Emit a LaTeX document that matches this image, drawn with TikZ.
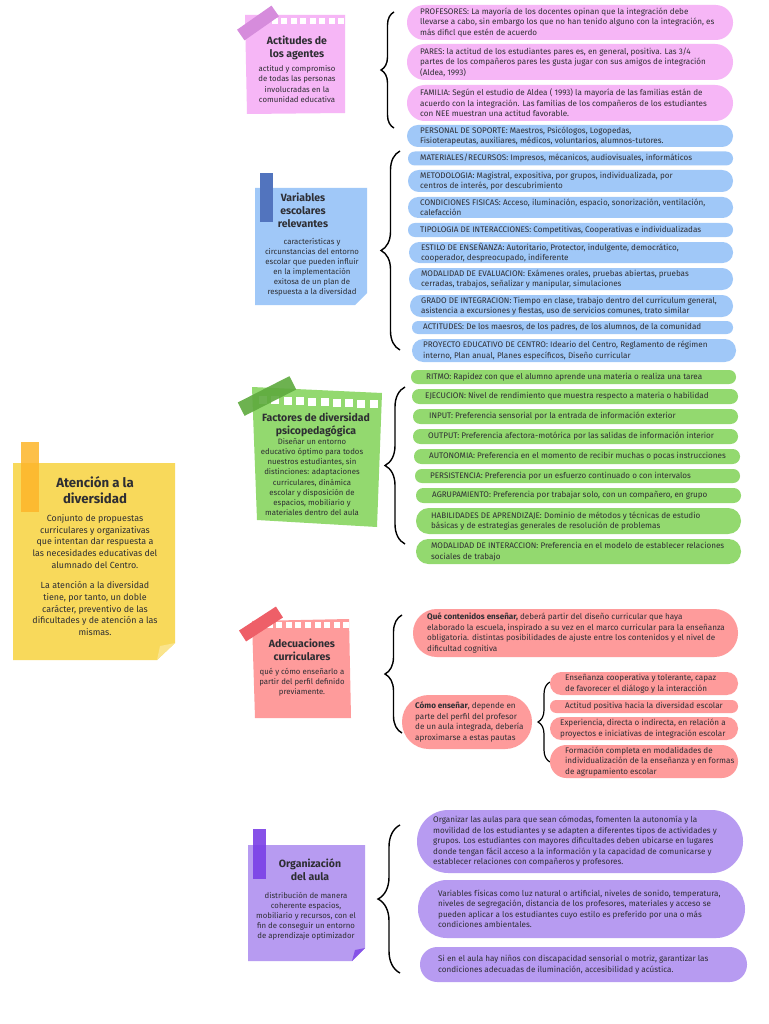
\documentclass[tikz,border=0pt]{standalone}
\usepackage{fontspec}
\setmainfont{Fira Sans}
\usetikzlibrary{decorations.pathreplacing}
\definecolor{txt}{HTML}{2E2E33}
\definecolor{pinkc}{HTML}{F6B6F6}
\definecolor{pinktape}{HTML}{D68CDC}
\definecolor{bluec}{HTML}{A0C8F8}
\definecolor{bluetape}{HTML}{5274BE}
\definecolor{greenc}{HTML}{93D96F}
\definecolor{greentape}{HTML}{5EAA3E}
\definecolor{redc}{HTML}{FE9B9B}
\definecolor{redtape}{HTML}{EE5F68}
\definecolor{purc}{HTML}{B79BF1}
\definecolor{purtape}{HTML}{7A40E6}
\definecolor{yelc}{HTML}{F8D95B}
\definecolor{yeltape}{HTML}{FDB52A}
\newcommand{\pillbox}[8]{%
  \pgfmathsetmacro{\pbW}{#4-#3}\pgfmathsetmacro{\pbH}{#6-#5}%
  \pgfmathsetmacro{\pbR}{(#6-#5)/2-0.2}%
  \pgfmathsetmacro{\pbX}{(#3+#4)/2}\pgfmathsetmacro{\pbY}{(#5+#6)/2}%
  \node[pillshape, fill=#2, minimum width=\pbW pt, minimum height=\pbH pt, rounded corners=\pbR pt] (#1) at (\pbX,\pbY) {};
  \node[itemtext, anchor=west] (#1t) at (#7,\pbY) {#8};
}
\begin{document}
\begin{tikzpicture}[x=1pt,y=-1pt,
  pillshape/.style={draw=none, inner sep=0pt, outer sep=0pt},
  itemtext/.style={align=left, inner sep=0pt, text=txt, font=\fontsize{8.1}{10.5}\selectfont},
  notetitle/.style={align=center, inner sep=0pt, text=txt, font=\bfseries\fontsize{10.5}{13}\selectfont},
  notebody/.style={align=center, inner sep=0pt, text=txt, font=\fontsize{7.8}{10.1}\selectfont},
  brc/.style={draw=black, line width=1.4pt, decorate},
  tapebox/.style={inner sep=0pt, outer sep=0pt, draw=none},
  perf/.style={fill=white}]
\useasboundingbox (0,0) rectangle (768,1024);
\fill[white] (0,0) rectangle (768,1024);

% ---------------- Yellow central note ----------------
\fill[yelc] (13,463) -- (175,463) -- (175,643) -- (157,660) -- (13,660) -- cycle;
\fill[yelc!70!white] (157,660) -- (175,643) -- (160,646) -- cycle;
\node[tapebox, fill=yeltape, fill opacity=0.85, minimum width=18pt, minimum height=70pt] (ytape) at (30,477) {};
\node[notetitle, font=\bfseries\fontsize{13.2}{16}\selectfont] (ytitle) at (95,490) {Atención a la\\diversidad};
\node[notebody, font=\fontsize{8.9}{11.8}\selectfont] (ybody1) at (95,541.5) {Conjunto de propuestas\\curriculares y organizativas\\que intentan dar respuesta a\\las necesidades educativas del\\alumnado del Centro.};
\node[notebody, font=\fontsize{8.9}{11.8}\selectfont] (ybody2) at (95,608.5) {La atención a la diversidad\\tiene, por tanto, un doble\\carácter, preventivo de las\\dificultades y de atención a las\\mismas.};

% ---------------- Pink note ----------------
\fill[pinkc] (245,15) -- (345,15) -- (345,113) -- (247,114) -- cycle;
\foreach \i in {0,...,8} { \fill[perf] ({262+\i*9.5},18.5) rectangle ++(6,6); }
\node[tapebox, fill=pinktape, minimum width=42pt, minimum height=13pt, rotate=35] (ptape) at (258,23) {};
\node[notetitle] (ptitle) at (297,47.5) {Actitudes de\\los agentes};
\node[notebody] (pbody) at (297,84) {actitud y compromiso\\de todas las personas\\involucradas en la\\comunidad educativa};

\coordinate (pkB) at (394,128); \coordinate (pkT) at (394,12);
\draw[brc, decoration={brace, amplitude=13pt}] (pkB) -- (pkT);

\pillbox{p1}{pinkc}{407}{733}{5}{40}{420}{PROFESORES: La mayoría de los docentes opinan que la integración debe\\llevarse a cabo, sin embargo los que no han tenido alguno con la integración, es\\más dificl que estén de acuerdo}
\pillbox{p2}{pinkc}{407}{733}{44}{80}{420}{PARES: la actitud de los estudiantes pares es, en general, positiva. Las 3/4\\partes de los compañeros pares les gusta jugar con sus amigos de integración\\(Aldea, 1993)}
\pillbox{p3}{pinkc}{407}{733}{85}{121}{420}{FAMILIA: Según el estudio de Aldea ( 1993) la mayoría de las familias están de\\acuerdo con la integración. Las familias de los compañeros de los estudiantes\\con NEE muestran una actitud favorable.}
\pillbox{p4}{bluec}{407}{733}{125}{147}{420}{PERSONAL DE SOPORTE: Maestros, Psicólogos, Logopedas,\\Fisioterapeutas, auxiliares, médicos, voluntarios, alumnos-tutores.}

% ---------------- Blue note ----------------
\fill[bluec] (255,188) -- (367,188) -- (367,293) -- (355,305) -- (255,305) -- cycle;
\node[tapebox, fill=bluetape, minimum width=13pt, minimum height=49pt] (btape) at (266.5,197.5) {};
\node[notetitle] (btitle) at (303,210) {Variables\\escolares\\relevantes};
\node[notebody] (bbody) at (312,267) {características y\\circunstancias del entorno\\escolar que pueden influir\\en la implementación\\exitosa de un plan de\\respuesta a la diversidad};

\coordinate (blB) at (400,350); \coordinate (blT) at (400,151);
\draw[brc, decoration={brace, amplitude=19pt}] (blB) -- (blT);

\pillbox{b1}{bluec}{408}{733}{151.5}{165.5}{420}{MATERIALES/RECURSOS: Impresos, mécanicos, audiovisuales, informáticos}
\pillbox{b2}{bluec}{408}{733}{170}{192}{420}{METODOLOGIA: Magistral, expositiva, por grupos, individualizada, por\\centros de interés, por descubrimiento}
\pillbox{b3}{bluec}{408}{733}{197}{218}{420}{CONDICIONES FISICAS: Acceso, iluminación, espacio, sonorización, ventilación,\\calefacción}
\pillbox{b4}{bluec}{408}{733}{223}{237}{420}{TIPOLOGIA DE INTERACCIONES: Competitivas, Cooperativas e individualizadas}
\pillbox{b5}{bluec}{409}{733}{242}{263}{421}{ESTILO DE ENSEÑANZA: Autoritario, Protector, indulgente, democrático,\\cooperador, despreocupado, indiferente}
\pillbox{b6}{bluec}{409}{733}{268}{290}{421}{MODALIDAD DE EVALUACION: Exámenes orales, pruebas abiertas, pruebas\\cerradas, trabajos, señalizar y manipular, simulaciones}
\pillbox{b7}{bluec}{410}{733}{295}{317}{421}{GRADO DE INTEGRACION: Tiempo en clase, trabajo dentro del curriculum general,\\asistencia a excursiones y fiestas, uso de servicios comunes, trato similar}
\pillbox{b8}{bluec}{412}{733}{321}{334}{423}{ACTITUDES: De los maesros, de los padres, de los alumnos, de la comunidad}
\pillbox{b9}{bluec}{412}{736}{339}{362}{423}{PROYECTO EDUCATIVO DE CENTRO: Ideario del Centro, Reglamento de régimen\\interno, Plan anual, Planes específicos, Diseño curricular}

% ---------------- Green note ----------------
\fill[greenc] (252,387) -- (382,393) -- (377,527) -- (257,520) -- cycle;
\foreach \i in {0,...,9} { \fill[perf] ({259+\i*12.3},{396+\i*0.45}) rectangle ++(8,8); }
\node[tapebox, fill=greentape, fill opacity=0.9, minimum width=58pt, minimum height=15pt, rotate=27] (gtape) at (267,396) {};
\node[notetitle] (gtitle) at (316,424.5) {Factores de diversidad\\psicopedagógica};
\node[notebody] (gbody) at (312,477) {Diseñar un entorno\\educativo óptimo para todos\\nuestros estudiantes, sin\\distinciones: adaptaciones\\curriculares, dinámica\\escolar y disposición de\\espacios, mobiliario y\\materiales dentro del aula};

\coordinate (grB) at (405,544); \coordinate (grT) at (405,387);
\draw[brc, decoration={brace, amplitude=20pt}] (grB) -- (grT);

\pillbox{g1}{greenc}{411}{736}{370}{384}{426}{RITMO: Rapidez con que el alumno aprende una materia o realiza una tarea}
\pillbox{g2}{greenc}{412}{738}{389}{404}{425}{EJECUCION: Nivel de rendimiento que muestra respecto a materia o habilidad}
\pillbox{g3}{greenc}{413}{738}{409}{424}{429}{INPUT: Preferencia sensorial por la entrada de información exterior}
\pillbox{g4}{greenc}{413}{738}{429}{444}{428}{OUTPUT: Preferencia afectora-motórica por las salidas de información interior}
\pillbox{g5}{greenc}{414}{740}{449}{464}{429}{AUTONOMIA: Preferencia en el momento de recibir muchas o pocas instrucciones}
\pillbox{g6}{greenc}{415}{740}{469}{483}{430}{PERSISTENCIA: Preferencia por un esfuerzo continuado o con intervalos}
\pillbox{g7}{greenc}{416}{741}{488}{503}{432}{AGRUPAMIENTO: Preferencia por trabajar solo, con un compañero, en grupo}
\pillbox{g8}{greenc}{416}{741}{508}{534}{431}{HABILIDADES DE APRENDIZAJE: Dominio de métodos y técnicas de estudio\\básicas y de estrategias generales de resolución de problemas}
\pillbox{g9}{greenc}{416}{741}{539}{564}{431}{MODALIDAD DE INTERACCION: Preferencia en el modelo de establecer relaciones\\sociales de trabajo}

% ---------------- Red note ----------------
\fill[redc] (252,621) -- (349,619) -- (351,718) -- (255,718) -- cycle;
\foreach \i in {0,...,9} { \fill[perf] ({257+\i*9.6},622) rectangle ++(6,6); }
\node[tapebox, fill=redtape, minimum width=44pt, minimum height=13pt, rotate=33] (rtape) at (261,624) {};
\node[notetitle] (rtitle) at (302,650) {Adecuaciones\\curriculares};
\node[notebody] (rbody) at (302,682) {qué y cómo enseñarlo a\\partir del perfil definido\\previamente.};

\coordinate (rdB) at (402,733); \coordinate (rdT) at (402,615);
\draw[brc, decoration={brace, amplitude=17pt}] (rdB) -- (rdT);

\pillbox{r1}{redc}{413}{738}{609}{657}{427}{\textbf{Qué contenidos enseñar,} deberá partir del diseño curricular que haya\\elaborado la escuela, inspirado a su vez en el marco curricular para la enseñanza\\obligatoria. distintas posibilidades de ajuste entre los contenidos y el nivel de\\dificultad cognitiva}
\pillbox{r2}{redc}{402}{532}{695}{749}{415}{\textbf{Cómo enseñar}, depende en\\parte del perfil del profesor\\de un aula integrada, debería\\aproximarse a estas pautas}

\coordinate (rsB) at (550,762); \coordinate (rsT) at (550,682);
\draw[brc, line width=1.2pt, decoration={brace, amplitude=12pt}] (rsB) -- (rsT);

\pillbox{ra}{redc}{550}{738}{672}{695}{565}{Enseñanza cooperativa y tolerante, capaz\\de favorecer el diálogo y la interacción}
\pillbox{rb}{redc}{550}{738}{700}{713}{565}{Actitud positiva hacia la diversidad escolar}
\pillbox{rc}{redc}{550}{738}{717}{740}{560}{Experiencia, directa o indirecta, en relación a\\proyectos e iniciativas de integración escolar}
\pillbox{rd}{redc}{550}{738}{745}{778}{565}{Formación completa en modalidades de\\individualización de la enseñanza y en formas\\de agrupamiento escolar}

% ---------------- Purple note ----------------
\fill[purc] (248,845) -- (365,845) -- (365,948) -- (352,961) -- (248,961) -- cycle;
\fill[purtape!80!purc] (352,961) -- (365,948) -- (355,950) -- cycle;
\node[tapebox, fill=purtape, fill opacity=0.9, minimum width=13pt, minimum height=50pt] (utape) at (259.5,854) {};
\node[notetitle] (utitle) at (310,870) {Organización\\del aula};
\node[notebody] (ubody) at (306,916) {distribución de manera\\coherente espacios,\\mobiliario y recursos, con el\\fin de conseguir un entorno\\de aprendizaje optimizador};

\coordinate (puB) at (400,973); \coordinate (puT) at (400,825);
\draw[brc, decoration={brace, amplitude=22pt}] (puB) -- (puT);

\pillbox{u1}{purc}{417}{743}{810}{873}{433}{Organizar las aulas para que sean cómodas, fomenten la autonomía y la\\movilidad de los estudiantes y se adapten a diferentes tipos de actividades y\\grupos. Los estudiantes con mayores dificultades deben ubicarse en lugares\\donde tengan fácil acceso a la información y la capacidad de comunicarse y\\establecer relaciones con compañeros y profesores.}
\pillbox{u2}{purc}{418}{745}{880}{938}{438}{Variables físicas como luz natural o artificial, niveles de sonido, temperatura,\\niveles de segregación, distancia de los profesores, materiales y acceso se\\pueden aplicar a los estudiantes cuyo estilo es preferido por una o más\\condiciones ambientales.}
\pillbox{u3}{purc}{420}{747}{947}{982}{438}{Si en el aula hay niños con discapacidad sensorial o motriz, garantizar las\\condiciones adecuadas de iluminación, accesibilidad y acústica.}
\end{tikzpicture}
\end{document}
